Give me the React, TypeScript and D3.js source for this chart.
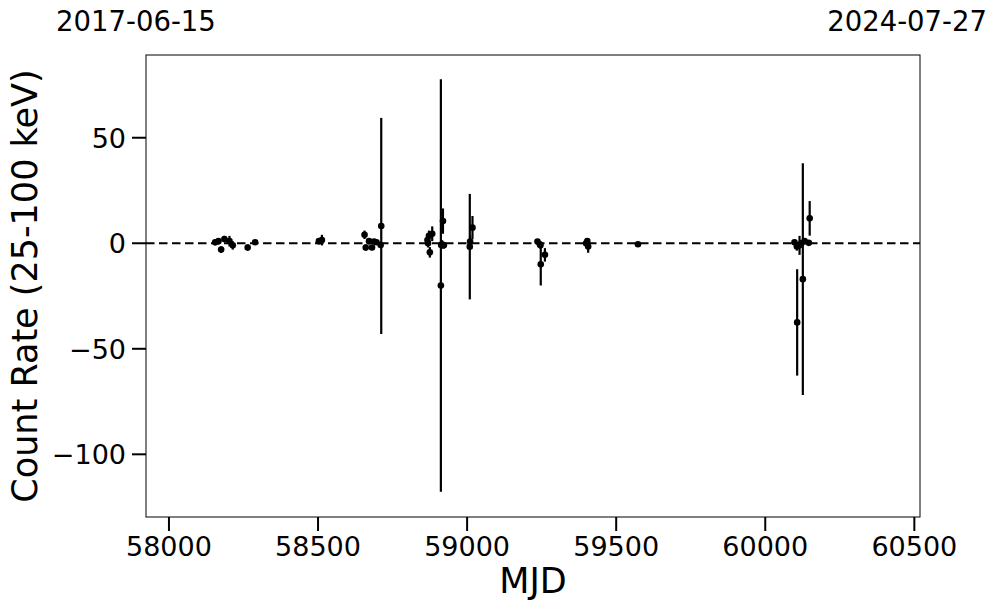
import React from "react";
import * as d3 from "d3";

const mjd = [58155, 58166, 58175, 58186, 58203, 58214, 58264, 58289, 58503, 58513,
  58656, 58660, 58671, 58681, 58688, 58696, 58710, 58712,
  58867, 58869, 58872, 58875, 58883, 58912, 58913, 58916, 58919, 58922,
  59009, 59010, 59018,
  59236, 59244, 59246, 59247, 59261, 59399, 59403, 59406, 59573,
  60098, 60106, 60107, 60115, 60121, 60126, 60132, 60146, 60149];
const rate = [0.5, 1, -3, 2, 1, -1, -2, 0.5, 1, 1.5,
  4, -2, 1, -2, 0.8, 0.5, -0.8, 8.2,
  1.5, 0, 3.5, -4.3, 4.5, -20, -0.8, -0.5, 10.5, -1,
  -1.6, 0.8, 7.4,
  0.8, -0.5, -1, -10, -5.5, 0, 1, -1.5, -0.5,
  0.5, -1.5, -37.5, -1, 0, -17, 1, 0.2, 11.8];
const err = [1.5, 1.5, 1.5, 1.5, 2.5, 2, 1.5, 1, 1.5, 2.5,
  2, 1.5, 1.5, 1, 1, 1, 1.5, 51.2,
  2, 2, 2.5, 2.5, 3.5, 97.7, 2, 2, 6, 1.5,
  25, 3, 5.5,
  1, 1, 1.5, 10, 3.2, 1.5, 1.5, 3, 1,
  1.5, 2, 25.2, 4.5, 1.5, 54.9, 1.5, 1, 8.2];
const xTicks = [58000, 58500, 59000, 59500, 60000, 60500];
const yTicks = [50, 0, -50, -100];
const startDate = "2017-06-15";
const endDate = "2024-07-27";

export default function App() {
  const W = 997, H = 613;
  const L = 146, R = 920, T = 55, B = 517;
  const x = d3.scaleLinear().domain([57923, 60519]).range([L, R]);
  const y = d3.scaleLinear().domain([-129.7, 89.2]).range([B, T]);
  const font = "DejaVu Sans, sans-serif";
  const pts = mjd.map((m, i) => ({ m, v: rate[i], e: err[i] }));
  const minus = (n: number) => (n < 0 ? "\u2212" + Math.abs(n) : String(n));
  return (
    <svg width={W} height={H} style={{ position: "absolute", left: 0, top: 0, background: "#fff" }} fontFamily={font}>
      <rect x={0} y={0} width={W} height={H} fill="#fff" />
      <defs>
        <clipPath id="plotclip"><rect x={L} y={T} width={R - L} height={B - T} /></clipPath>
      </defs>
      <line x1={L} x2={R} y1={y(0)} y2={y(0)} stroke="#000" strokeWidth={2} strokeDasharray="8.5,4.5" />
      <g clipPath="url(#plotclip)">
        {pts.map((p, i) => (
          <line key={"e" + i} x1={x(p.m)} x2={x(p.m)} y1={y(p.v + p.e)} y2={y(p.v - p.e)} stroke="#000" strokeWidth={2.2} />
        ))}
        {pts.map((p, i) => (
          <circle key={"c" + i} cx={x(p.m)} cy={y(p.v)} r={3.3} fill="#000" />
        ))}
      </g>
      <rect x={L} y={T} width={R - L} height={B - T} fill="none" stroke="#000" strokeWidth={1} />
      {xTicks.map((t) => (
        <g key={"xt" + t}>
          <line x1={x(t)} x2={x(t)} y1={B} y2={B + 14} stroke="#000" strokeWidth={2} />
          <text x={x(t)} y={556} fontSize={27} textAnchor="middle">{t}</text>
        </g>
      ))}
      {yTicks.map((t) => (
        <g key={"yt" + t}>
          <line x1={L - 14} x2={L} y1={y(t)} y2={y(t)} stroke="#000" strokeWidth={2} />
          <text x={L - 20} y={y(t) + 10} fontSize={27} textAnchor="end">{minus(t)}</text>
        </g>
      ))}
      <text x={(L + R) / 2} y={593} fontSize={35} textAnchor="middle">MJD</text>
      <text transform={`translate(37,${(T + B) / 2}) rotate(-90)`} fontSize={35} textAnchor="middle">Count Rate (25-100 keV)</text>
      <text x={56} y={31} fontSize={27.5} textAnchor="start">{startDate}</text>
      <text x={987} y={31} fontSize={27.5} textAnchor="end">{endDate}</text>
    </svg>
  );
}
